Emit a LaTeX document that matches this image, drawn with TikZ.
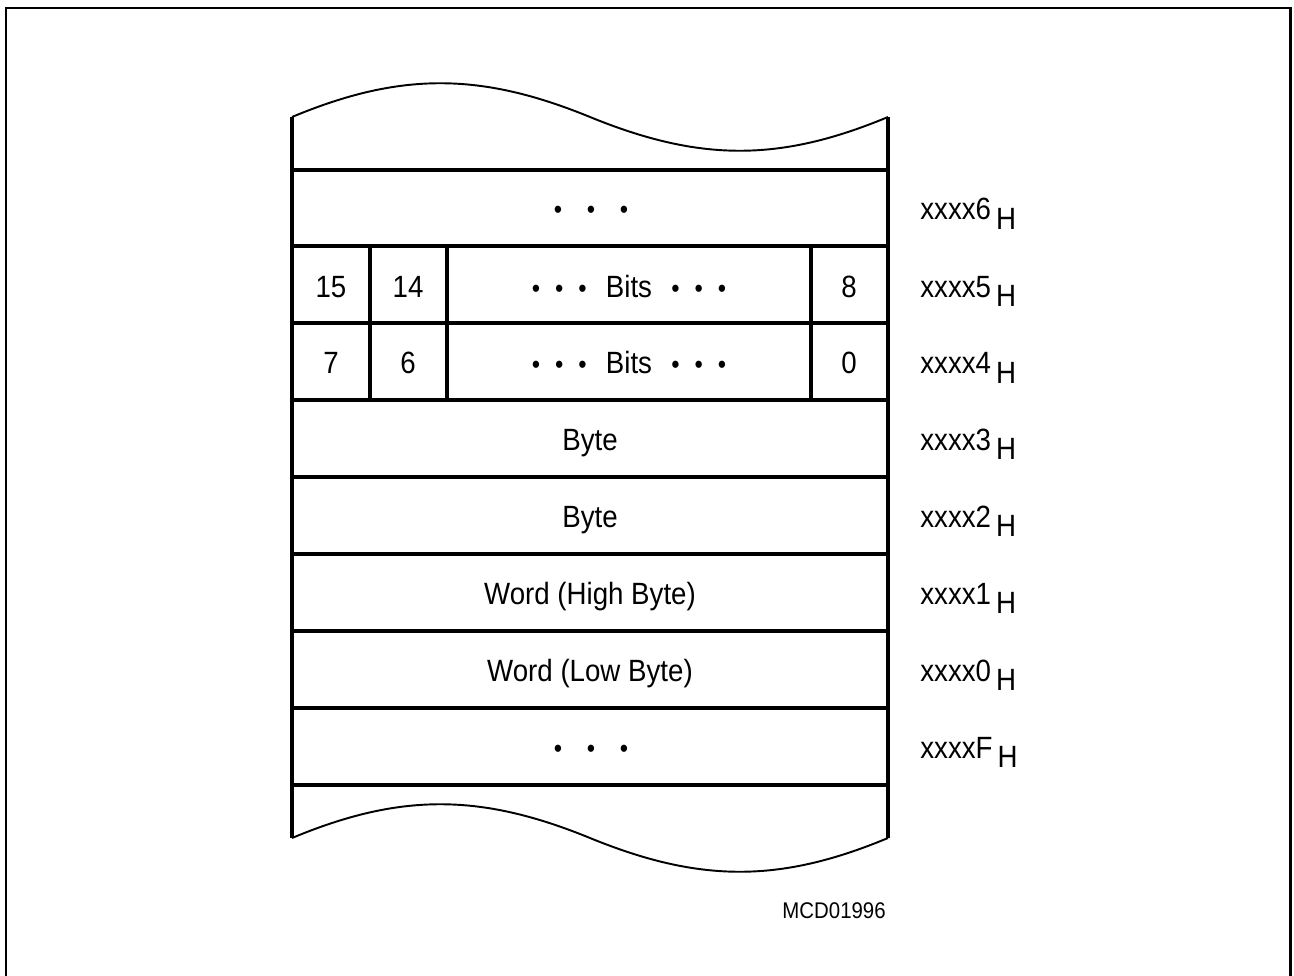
\documentclass[tikz,border=0pt]{standalone}
\usepackage{fontspec}
\setmainfont{Liberation Sans}[FakeStretch=0.9]
\newcommand{\bul}{{\fontsize{15}{15}\selectfont\textbullet}}
\newcommand{\bitdots}{\bul\hspace{8.5pt}\bul\hspace{8.5pt}\bul}
\begin{document}
\begin{tikzpicture}[x=0.02cm, y=-0.02cm,
  cell/.style={anchor=base, inner sep=0pt, font=\fontsize{17.5}{20}\selectfont},
  addr/.style={anchor=base west, inner sep=0pt, font=\fontsize{17.5}{20}\selectfont},
  grid/.style={line width=2.3pt},
  wave/.style={line width=1.1pt},
  frame/.style={line width=1.7pt}]

 \useasboundingbox (0,0) rectangle (1294,976);
 \draw [frame] (6,980) -- (6,8) -- (1290,8) -- (1290,980);

 \coordinate (top_l) at (292,117);
 \coordinate (top_r) at (888,117);
 \coordinate (bot_l) at (292,838);
 \coordinate (bot_r) at (888,838);

 \draw [wave] (top_l) .. controls (400,72) and (480,72) .. (590,117)
                      .. controls (700,162) and (780,162) .. (top_r);
 \draw [wave] (bot_l) .. controls (400,793) and (480,793) .. (590,838)
                      .. controls (700,883) and (780,883) .. (bot_r);

 \draw [grid] (top_l) -- (bot_l);
 \draw [grid] (top_r) -- (bot_r);
 \foreach \y in {170,246,323,400,477,554,631,708,785}
   \draw [grid] (292,\y) -- (888,\y);
 \foreach \x in {370,447,811}
   \draw [grid] (\x,246) -- (\x,400);

 \node [cell] (dots_top) at (591,219)
     {\bul\hspace{14pt}\bul\hspace{14pt}\bul};

 \node [cell] (cell_15) at (331,297) {15};
 \node [cell] (cell_14) at (408,297) {14};
 \node [cell] (bits_hi) at (629,297) {\bitdots\hspace{11pt}Bits\hspace{11pt}\bitdots};
 \node [cell] (cell_8) at (849,297) {8};

 \node [cell] (cell_7) at (331,374) {7};
 \node [cell] (cell_6) at (408,374) {6};
 \node [cell] (bits_lo) at (629,374) {\bitdots\hspace{11pt}Bits\hspace{11pt}\bitdots};
 \node [cell] (cell_0) at (849,374) {0};

 \node [cell] (byte_3) at (590,450) {Byte};
 \node [cell] (byte_2) at (590,527) {Byte};
 \node [cell] (word_hi) at (590,604) {Word (High Byte)};
 \node [cell] (word_lo) at (590,681) {Word (Low Byte)};

 \node [cell] (dots_bot) at (591,757)
     {\bul\hspace{14pt}\bul\hspace{14pt}\bul};

 \foreach \y/\a in {220/6,297/5,374/4,450/3,527/2,604/1,681/0,758/F}
   \node [addr] (addr_\a) at (920,\y) {xxxx\a\,\raisebox{-5.5pt}{H}};

 \node [anchor=base east, inner sep=0pt, font=\fontsize{12.9}{15}\selectfont]
     (fig_id) at (886,918) {MCD01996};

\end{tikzpicture}
\end{document}
